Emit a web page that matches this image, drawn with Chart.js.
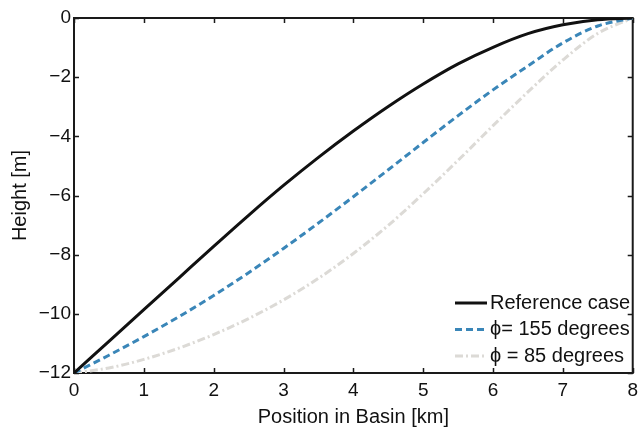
<!DOCTYPE html>
<html>
<head>
<meta charset="utf-8">
<script src="https://cdn.jsdelivr.net/npm/chart.js@4"></script>
<style>
  html, body { margin: 0; padding: 0; background: #fff; }
  #wrap { width: 644px; height: 427px; }
</style>
</head>
<body>
<div id="wrap"><canvas id="myChart"></canvas></div>
<script>
// position in basin [km]
let positions = [0, 0.5, 1, 1.5, 2, 2.5, 3, 3.5, 4, 4.5, 5, 5.5, 6, 6.5, 7, 7.5, 8];
// height [m] for each case
let refCase = [-12, -10.93, -9.86, -8.79, -7.72, -6.67, -5.66, -4.71, -3.82, -2.99, -2.23, -1.55, -0.99, -0.53, -0.23, -0.06, 0];
let phi155 = [-12, -11.4, -10.77, -10.1, -9.38, -8.61, -7.79, -6.93, -6.04, -5.13, -4.21, -3.3, -2.43, -1.62, -0.84, -0.27, 0];
let phi85 = [-12, -11.83, -11.54, -11.16, -10.7, -10.16, -9.53, -8.8, -7.96, -7.01, -5.94, -4.81, -3.64, -2.5, -1.42, -0.52, 0];
let labels = ["Reference case", "\u03D5= 155 degrees", "\u03D5 = 85 degrees"];
let xTicks = [0, 1, 2, 3, 4, 5, 6, 7, 8];
let yTicks = [-12, -10, -8, -6, -4, -2, 0];

let font = "'Liberation Sans', Arial, Helvetica, sans-serif";

function pts(ys) {
    return positions.map((p, i) => ({x: p, y: ys[i]}));
}

// box round the plot with inward ticks on all four sides
let frame = {
    id: 'frame',
    beforeDatasetsDraw(chart) {
        let {ctx, chartArea: a, scales: {x, y}} = chart;
        ctx.save();
        ctx.strokeStyle = '#1a1a1a';
        ctx.lineWidth = 1.5;
        ctx.beginPath();
        x.ticks.forEach(t => {
            let px = Math.round(x.getPixelForValue(t.value)) + 0.5;
            ctx.moveTo(px, a.bottom); ctx.lineTo(px, a.bottom - 5);
            ctx.moveTo(px, a.top); ctx.lineTo(px, a.top + 5);
        });
        y.ticks.forEach(t => {
            let py = Math.round(y.getPixelForValue(t.value)) + 0.5;
            ctx.moveTo(a.left, py); ctx.lineTo(a.left + 5, py);
            ctx.moveTo(a.right, py); ctx.lineTo(a.right - 5, py);
        });
        ctx.stroke();
        ctx.lineWidth = 2;
        ctx.strokeRect(a.left, a.top, a.right - a.left, a.bottom - a.top);
        ctx.restore();
    }
};

// legend in the lower right, no box
let legendBox = {
    id: 'legendBox',
    afterDraw(chart) {
        let {ctx} = chart;
        let x0 = 455, x1 = 487, y0 = 303, dy = 26.5;
        ctx.save();
        chart.data.datasets.forEach((ds, i) => {
            let yy = y0 + i * dy;
            ctx.strokeStyle = ds.borderColor;
            ctx.lineWidth = ds.borderWidth;
            ctx.setLineDash(ds.borderDash || []);
            ctx.beginPath();
            ctx.moveTo(x0, yy); ctx.lineTo(x1, yy);
            ctx.stroke();
            ctx.setLineDash([]);
            ctx.fillStyle = '#111';
            ctx.font = '20px ' + font;
            ctx.textBaseline = 'middle';
            ctx.fillText(ds.label, x1 + 3, yy);
        });
        ctx.restore();
    }
};

let myChart = document.getElementById("myChart").getContext('2d');

let chart = new Chart(myChart, {
    type: 'line',
    data: {
        datasets: [{
            label: labels[0],
            data: pts(refCase),
            borderColor: '#111111',
            borderWidth: 3,
            pointRadius: 0,
            fill: false,
            cubicInterpolationMode: 'monotone'
        }, {
            label: labels[1],
            data: pts(phi155),
            borderColor: '#3a86b8',
            borderWidth: 3,
            borderDash: [7, 4],
            pointRadius: 0,
            fill: false,
            cubicInterpolationMode: 'monotone'
        }, {
            label: labels[2],
            data: pts(phi85),
            borderColor: '#dcdad6',
            borderWidth: 3,
            borderDash: [8, 3, 2, 3],
            pointRadius: 0,
            fill: false,
            cubicInterpolationMode: 'monotone'
        }]
    },
    options: {
        responsive: true,
        maintainAspectRatio: false,
        animation: false,
        layout: { padding: { left: 0, right: 6, top: 18, bottom: 0 } },
        plugins: {
            legend: { display: false },
            tooltip: { enabled: false }
        },
        scales: {
            x: {
                type: 'linear',
                min: 0,
                max: 8,
                afterBuildTicks: s => { s.ticks = xTicks.map(v => ({value: v})); },
                afterFit: s => { s.height = 54; },
                grid: { display: false, drawTicks: false },
                border: { display: false },
                ticks: {
                    padding: 6,
                    color: '#111',
                    font: { family: font, size: 19 },
                    maxRotation: 0
                },
                title: {
                    display: true,
                    text: 'Position in Basin [km]',
                    color: '#111',
                    font: { family: font, size: 20, lineHeight: 1 },
                    padding: { bottom: 0, top: 0 }
                }
            },
            y: {
                type: 'linear',
                min: -12,
                max: 0,
                afterBuildTicks: s => { s.ticks = yTicks.map(v => ({value: v})); },
                afterFit: s => { s.width = 74; },
                grid: { display: false, drawTicks: false },
                border: { display: false },
                ticks: {
                    padding: 3,
                    color: '#111',
                    font: { family: font, size: 19 },
                    callback: v => v < 0 ? '\u2212' + Math.abs(v) : String(v)
                },
                title: {
                    display: true,
                    text: 'Height [m]',
                    color: '#111',
                    font: { family: font, size: 20, lineHeight: 1 },
                    padding: { top: 10, bottom: 0 }
                }
            }
        }
    },
    plugins: [frame, legendBox]
});
</script>
</body>
</html>
